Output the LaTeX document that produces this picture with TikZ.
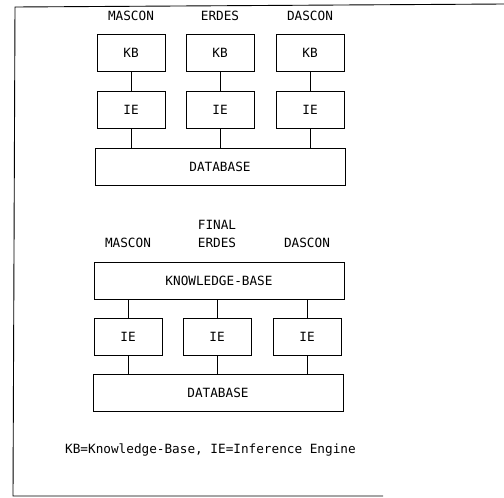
\documentclass[tikz,border=0pt]{standalone}
\usepackage{fontspec}
\setmonofont{DejaVu Sans Mono}
\usetikzlibrary{positioning}
\begin{document}
\begin{tikzpicture}[x=1pt,y=-1pt,
    every node/.style={font=\ttfamily\fontsize{12.7}{14}\selectfont},
    sysbox/.style={draw,line width=0.9pt,minimum width=68pt,minimum height=37pt,inner sep=0pt},
    widebox/.style={sysbox,minimum width=250pt},
    link/.style={line width=0.9pt}]
  \useasboundingbox (0,0) rectangle (504,498);
  % frame
  \draw[line width=0.9pt] (504,4) -- (15,7) -- (13,496) -- (383,496);

  % upper arrangement
  \node[widebox] (db1) at (220,167) {DATABASE};
  \foreach \name/\x in {MASCON/131,ERDES/220,DASCON/310}{
    \node (lab\x) at (\x,16) {\name};
    \node[sysbox] (kb\x) at (\x,53) {KB};
    \node[sysbox] (ie\x) at (\x,109.5) {IE};
    \draw[link] (kb\x.south) -- (ie\x.north);
    \draw[link] (ie\x.south) -- (ie\x.south |- db1.north);
  }

  % lower arrangement
  \node (final) at (217,225) {FINAL};
  \node[widebox] (kbase) at (219,280.5) {KNOWLEDGE-BASE};
  \node[widebox] (db2) at (218,392.5) {DATABASE};
  \foreach \name/\x in {MASCON/128,ERDES/217,DASCON/307}{
    \node (name\x) at (\x,243) {\name};
    \node[sysbox] (eng\x) at (\x,336.5) {IE};
    \draw[link] (eng\x.north) -- (eng\x.north |- kbase.south);
    \draw[link] (eng\x.south) -- (eng\x.south |- db2.north);
  }

  \node[anchor=west,inner sep=0pt] (legend) at (65,450) {KB=Knowledge-Base, IE=Inference Engine};
\end{tikzpicture}
\end{document}
